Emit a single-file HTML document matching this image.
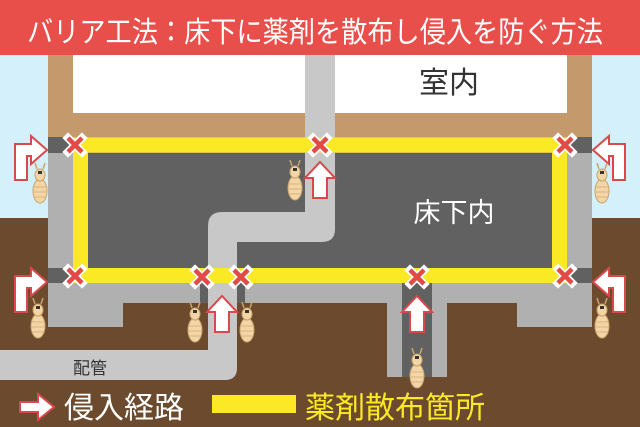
<!DOCTYPE html>
<html><head><meta charset="utf-8"><style>
body{margin:0;width:640px;height:427px;overflow:hidden}
svg{display:block}
text{font-family:"Liberation Sans","Noto Sans CJK JP",sans-serif}
</style></head><body>
<svg width="640" height="427" viewBox="0 0 640 427" xmlns="http://www.w3.org/2000/svg">
<defs>
<g id="x"><path d="M-7,-7 L7,7 M7,-7 L-7,7" stroke="#fff" stroke-width="8" stroke-linecap="square"/><path d="M-7,-7 L7,7 M7,-7 L-7,7" stroke="#e24a48" stroke-width="4.5"/></g>
<g id="up"><path d="M-7,20 L-7,0 L-15,0 L0,-16 L15,0 L7,0 L7,20 Z" fill="#fff" stroke="#d9484a" stroke-width="2"/></g>
<g id="bent"><path d="M-6,22 L-6,-14 L10,-14 L10,-22 L26,-8 L10,6 L10,-2 L6,-2 L6,22 Z" fill="#fff" stroke="#d9484a" stroke-width="2"/></g>
<g id="t"><ellipse cx="0" cy="8" rx="7" ry="12" fill="#f3d5a6" stroke="#c9a46e" stroke-width="1"/><ellipse cx="0" cy="-8" rx="5" ry="6" fill="#f3d5a6" stroke="#c9a46e" stroke-width="1"/><path d="M-6,4h12M-7,9h14M-6,14h12" stroke="#d8b482" stroke-width="1"/><path d="M-3,-14 L-5,-20 M3,-14 L5,-20" stroke="#c9a46e" stroke-width="1.5"/><rect x="-2" y="-12" width="4" height="3" fill="#333"/></g>
</defs>
<rect width="640" height="427" fill="#6b4a2e"/>
<rect x="0" y="55" width="640" height="163" fill="#d3f0fb"/>
<!-- house -->
<rect x="48" y="55" width="544" height="98" fill="#c49a6c"/>
<rect x="73" y="55" width="494" height="58" fill="#fff"/>
<!-- foundation -->
<rect x="48" y="153" width="544" height="150" fill="#b0b0b0"/>
<rect x="48" y="290" width="75" height="37" fill="#b0b0b0"/>
<rect x="517" y="290" width="75" height="37" fill="#b0b0b0"/>
<rect x="387" y="290" width="60" height="87" fill="#b0b0b0"/>
<rect x="402" y="283" width="30" height="94" fill="#616161"/>
<rect x="48" y="137" width="25" height="16" fill="#616161"/>
<rect x="567" y="137" width="25" height="16" fill="#616161"/>
<rect x="48" y="268" width="25" height="15" fill="#616161"/>
<rect x="567" y="268" width="25" height="15" fill="#616161"/>
<rect x="88" y="153" width="464" height="115" fill="#616161"/>
<rect x="200" y="283" width="45" height="20" fill="#616161"/>
<!-- pipe -->
<path d="M305,55 V212 H222 Q208,212 208,226 V350 H0 V380 H225 Q237,380 237,368 V242 H322 Q335,242 335,229 V55 Z" fill="#c8c8c8"/>
<!-- yellow -->
<rect x="80.5" y="145" width="479" height="130.5" fill="none" stroke="#fbe925" stroke-width="15"/>
<rect x="208" y="268" width="29" height="15" fill="#fbe925"/>
<rect x="208" y="283" width="29" height="20" fill="#c8c8c8"/>
<!-- title -->
<rect x="0" y="0" width="640" height="55" fill="#e84f4b"/>
<text x="27" y="42" fill="#fff" font-size="29" textLength="576" lengthAdjust="spacingAndGlyphs">バリア工法：床下に薬剤を散布し侵入を防ぐ方法</text>
<text x="449" y="93" fill="#333" font-size="30" text-anchor="middle">室内</text>
<text x="454" y="222" fill="#fff" font-size="27" text-anchor="middle">床下内</text>
<text x="90" y="374" fill="#333" font-size="17" text-anchor="middle">配管</text>
<!-- X marks -->
<use href="#x" x="75" y="145"/><use href="#x" x="320" y="145"/><use href="#x" x="565" y="145"/>
<use href="#x" x="75" y="276"/><use href="#x" x="202" y="277"/><use href="#x" x="241" y="277"/><use href="#x" x="417" y="277"/><use href="#x" x="565" y="276"/>
<!-- arrows -->
<use href="#up" x="320" y="178"/><use href="#up" x="222" y="312"/><use href="#up" x="417" y="312"/>
<use href="#bent" x="21" y="158"/><use href="#bent" x="21" y="290"/>
<use href="#bent" transform="translate(619,158) scale(-1,1)"/><use href="#bent" transform="translate(619,290) scale(-1,1)"/>
<!-- termites -->
<use href="#t" x="40" y="183"/><use href="#t" x="38" y="318"/><use href="#t" x="295" y="180"/>
<use href="#t" x="195" y="322"/><use href="#t" x="247" y="322"/><use href="#t" x="417" y="368"/>
<use href="#t" x="602" y="183"/><use href="#t" x="602" y="318"/>
<!-- legend -->
<path d="M20,402 L38,402 L38,394 L54,407 L38,420 L38,412 L20,412 Z" fill="#fff" stroke="#d9484a" stroke-width="2"/>
<text x="64" y="418" fill="#fff" font-size="30">侵入経路</text>
<rect x="212" y="395" width="84" height="18" fill="#fbe925"/>
<text x="305" y="418" fill="#fbe925" font-size="30">薬剤散布箇所</text>
</svg>
</body></html>
